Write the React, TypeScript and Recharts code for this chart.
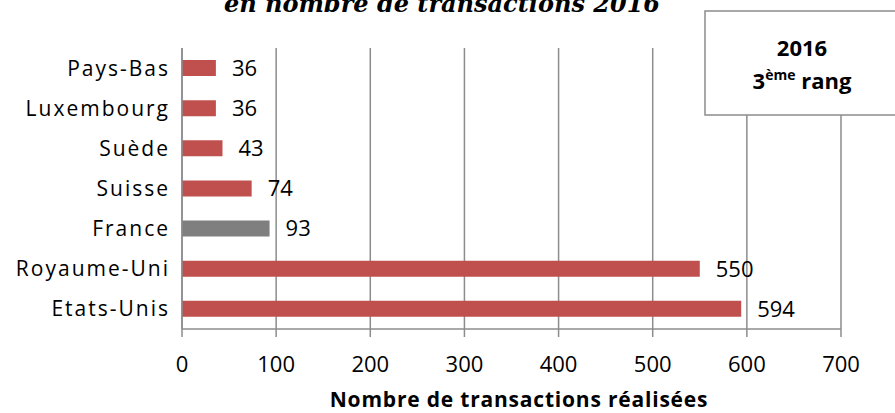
import React from "react";
import { BarChart, Bar, XAxis, YAxis, CartesianGrid, Cell, LabelList } from "recharts";

const countries = ["Pays-Bas", "Luxembourg", "Suède", "Suisse", "France", "Royaume-Uni", "Etats-Unis"];
const transactions = [36, 36, 43, 74, 93, 550, 594];
const highlight = ["France"];
const xTicks = [0, 100, 200, 300, 400, 500, 600, 700];
const title = "en nombre de transactions 2016";
const xLabel = "Nombre de transactions réalisées";
const boxYear = "2016";

const RED = "#C0504D";
const GREY = "#7F7F7F";
const GRID = "#8C8C8C";
const FONT = "'Open Sans', sans-serif";

const data = countries.map((c, i) => ({ country: c, value: transactions[i] }));

export default function App() {
  return (
    <div style={{ position: "absolute", left: 0, top: 0, width: 895, height: 413, overflow: "hidden", background: "#fff" }}>
      <BarChart
        width={895}
        height={413}
        data={data}
        layout="vertical"
        margin={{ top: 48, right: 54, left: 0, bottom: 0 }}
        barCategoryGap={0}
      >
        <CartesianGrid horizontal={false} vertical={true} stroke={GRID} strokeWidth={1.5} />
        <XAxis
          type="number"
          domain={[0, 700]}
          ticks={xTicks}
          interval={0}
          height={84}
          axisLine={{ stroke: GRID, strokeWidth: 1.5 }}
          tickLine={{ stroke: GRID, strokeWidth: 1.5 }}
          tickSize={8}
          tickMargin={19}
          tick={{ fill: "#000", fontSize: 22, fontFamily: FONT }}
        />
        <YAxis
          type="category"
          dataKey="country"
          width={182}
          axisLine={{ stroke: GRID, strokeWidth: 1.5 }}
          tickLine={false}
          tickSize={0}
          tickMargin={12}
          interval={0}
          tick={{ fill: "#000", fontSize: 21, fontFamily: FONT, letterSpacing: 2 }}
        />
        <Bar dataKey="value" barSize={16} isAnimationActive={false}>
          {data.map((d) => (
            <Cell key={d.country} fill={highlight.includes(d.country) ? GREY : RED} />
          ))}
          <LabelList
            dataKey="value"
            position="right"
            offset={16}
            fill="#000"
            style={{ fontSize: 22, fontFamily: FONT }}
          />
        </Bar>
      </BarChart>
      <svg width={895} height={413} style={{ position: "absolute", left: 0, top: 0, pointerEvents: "none" }}>
        <text
          x={442}
          y={12}
          textAnchor="middle"
          fontFamily="'DejaVu Serif', serif"
          fontWeight="bold"
          fontStyle="italic"
          fontSize={24}
          fill="#000"
        >
          {title}
        </text>
        <rect x={705} y={11} width={200} height={104} fill="#fff" stroke="#8C8C8C" strokeWidth={1.5} />
        <text x={802} y={56} textAnchor="middle" fontFamily={FONT} fontWeight="bold" fontSize={22} fill="#000">
          {boxYear}
        </text>
        <text x={802} y={89} textAnchor="middle" fontFamily={FONT} fontWeight="bold" fontSize={22} fill="#000">
          3<tspan fontSize={14} dy={-9}>ème</tspan>
          <tspan dy={9}> rang</tspan>
        </text>
        <text x={519} y={407} textAnchor="middle" fontFamily={FONT} fontWeight="bold" fontSize={21} letterSpacing={0.8} fill="#000">
          {xLabel}
        </text>
      </svg>
    </div>
  );
}
